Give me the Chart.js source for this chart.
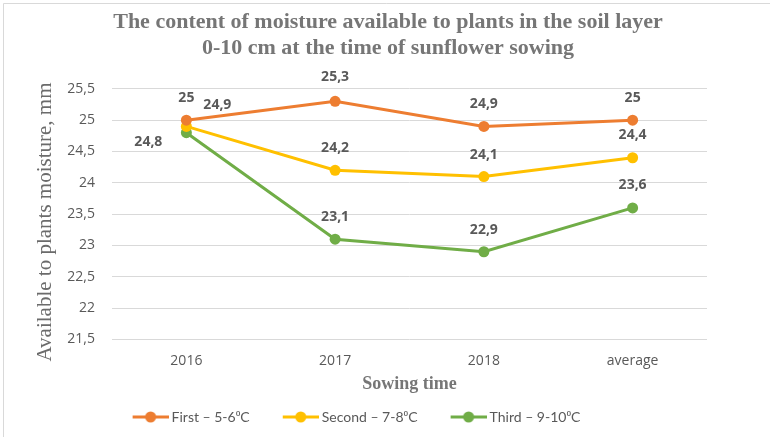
<!DOCTYPE html>
<html>
<head>
<meta charset="utf-8">
<script src="https://cdn.jsdelivr.net/npm/chart.js@4"></script>
<style>
  html, body { margin: 0; padding: 0; background: #fff; }
  #wrap { width: 770px; height: 437px; }
</style>
</head>
<body>
<div id="wrap"><canvas id="line-chart" width="770" height="437"></canvas></div>
<script>
// data
let categories = ["2016", "2017", "2018", "average"];
let firstValues = [25, 25.3, 24.9, 25];
let secondValues = [24.9, 24.2, 24.1, 24.4];
let thirdValues = [24.8, 23.1, 22.9, 23.6];
let seriesNames = ["First – 5-6⁰C", "Second – 7-8⁰C", "Third – 9-10⁰C"];
let seriesColors = ["#ED7D31", "#FFC000", "#70AD47"];
let yTicks = [21.5, 22, 22.5, 23, 23.5, 24, 24.5, 25, 25.5];

let textGray = "#595959";
let titleGray = "#767676";

// legend marker: short line with a dot, drawn on the right part of the image
let legendMarker = (color)=>{
  let c = document.createElement("canvas");
  c.width = 60; c.height = 12;
  let ctx = c.getContext("2d");
  ctx.strokeStyle = color;
  ctx.lineWidth = 3;
  ctx.beginPath();
  ctx.moveTo(24, 6); ctx.lineTo(60, 6);
  ctx.stroke();
  ctx.fillStyle = color;
  ctx.beginPath();
  ctx.arc(42, 6, 5.5, 0, Math.PI * 2);
  ctx.fill();
  return c;
};

// where each value label sits relative to its point: [dx, dy]
let labelOffsets = [
  [[0, -22], [0, -24], [0, -22], [0, -22]],
  [[31, -21], [0, -22], [0, -22], [0, -23]],
  [[-38, 9], [0, -22], [0, -22], [0, -23]]
];

let valueLabels = {
  id: "valueLabels",
  afterDatasetsDraw(chart) {
    let ctx = chart.ctx;
    ctx.save();
    ctx.font = "bold 14px 'Open Sans'";
    ctx.fillStyle = textGray;
    ctx.textAlign = "center";
    ctx.textBaseline = "middle";
    chart.data.datasets.forEach((ds, i)=>{
      let meta = chart.getDatasetMeta(i);
      meta.data.forEach((pt, j)=>{
        let off = labelOffsets[i][j];
        let txt = String(ds.data[j]).replace(".", ",");
        ctx.fillText(txt, pt.x + off[0], pt.y + off[1]);
      });
    });
    ctx.restore();
  }
};

let frameLines = {
  id: "frameLines",
  beforeDraw(chart) {
    let ctx = chart.ctx;
    ctx.save();
    ctx.fillStyle = "#fff";
    ctx.fillRect(0, 0, chart.width, chart.height);
    ctx.strokeStyle = "#d9d9d9";
    ctx.lineWidth = 1;
    ctx.beginPath();
    ctx.moveTo(3.5, chart.height);
    ctx.lineTo(3.5, 3.5);
    ctx.lineTo(chart.width, 3.5);
    ctx.stroke();
    ctx.restore();
  }
};

// title centred on the whole picture, legend nudged a bit left
let shiftBlocks = {
  id: "shiftBlocks",
  afterLayout(chart) {
    if (chart.titleBlock) {
      chart.titleBlock.left = 13;
      chart.titleBlock.right = 763;
    }
    if (chart.legend) {
      chart.legend.left -= 12;
      chart.legend.right -= 12;
    }
  }
};

let allValues = [firstValues, secondValues, thirdValues];

let lineChart = new Chart("line-chart", {
  type: "line",
  data: {
    labels: categories,
    datasets: allValues.map((vals, i)=>{
      return {
        label: seriesNames[i],
        data: vals,
        borderColor: seriesColors[i],
        backgroundColor: seriesColors[i],
        borderWidth: 3,
        pointRadius: 5.5,
        pointBorderWidth: 0,
        pointStyle: "circle",
        tension: 0
      };
    })
  },
  options: {
    responsive: false,
    animation: false,
    layout: {
      padding: { left: 10, right: 63, top: 4, bottom: 3 }
    },
    plugins: {
      title: {
        display: true,
        text: ["The content of moisture available to plants in the soil layer", "0-10 cm at the time of sunflower sowing"],
        color: titleGray,
        font: { family: "Liberation Serif", size: 22, weight: "bold", lineHeight: 1.2 },
        padding: { top: 5, bottom: 27 }
      },
      legend: {
        display: true,
        position: "bottom",
        labels: {
          color: textGray,
          font: { family: "Lato", size: 14 },
          usePointStyle: true,
          pointStyleWidth: 52,
          padding: 13,
          generateLabels: (chart)=>{
            return chart.data.datasets.map((ds, i)=>{
              return {
                text: ds.label,
                fontColor: textGray,
                pointStyle: legendMarker(seriesColors[i]),
                fillStyle: seriesColors[i],
                strokeStyle: seriesColors[i],
                lineWidth: 0,
                datasetIndex: i
              };
            });
          }
        }
      },
      tooltip: { enabled: false }
    },
    scales: {
      x: {
        offset: true,
        afterFit: (axis)=>{ axis.height = 57.5; },
        grid: { display: false, drawTicks: false },
        border: { display: false },
        ticks: {
          color: textGray,
          font: { family: "Open Sans", size: 14 },
          padding: 13.5
        },
        title: {
          display: true,
          text: "Sowing time",
          color: titleGray,
          font: { family: "Liberation Serif", size: 18, weight: "bold" },
          padding: { top: 0, bottom: 2 }
        }
      },
      y: {
        min: 21.5,
        max: 25.5,
        afterBuildTicks: (axis)=>{
          axis.ticks = yTicks.map((v)=>{ return { value: v }; });
        },
        afterFit: (axis)=>{ axis.width = 102; },
        grid: { color: "#d9d9d9", drawTicks: false, lineWidth: 1 },
        border: { display: false },
        ticks: {
          color: textGray,
          font: { family: "Open Sans", size: 14 },
          padding: 17,
          callback: (v)=>{ return String(v).replace(".", ","); }
        },
        title: {
          display: true,
          text: "Available to plants moisture, mm\u00A0\u00A0\u00A0",
          color: "#6b6b6b",
          font: { family: "Liberation Serif", size: 21 },
          padding: { top: 23, bottom: 0 }
        }
      }
    }
  },
  plugins: [frameLines, valueLabels, shiftBlocks]
});
</script>
</body>
</html>
